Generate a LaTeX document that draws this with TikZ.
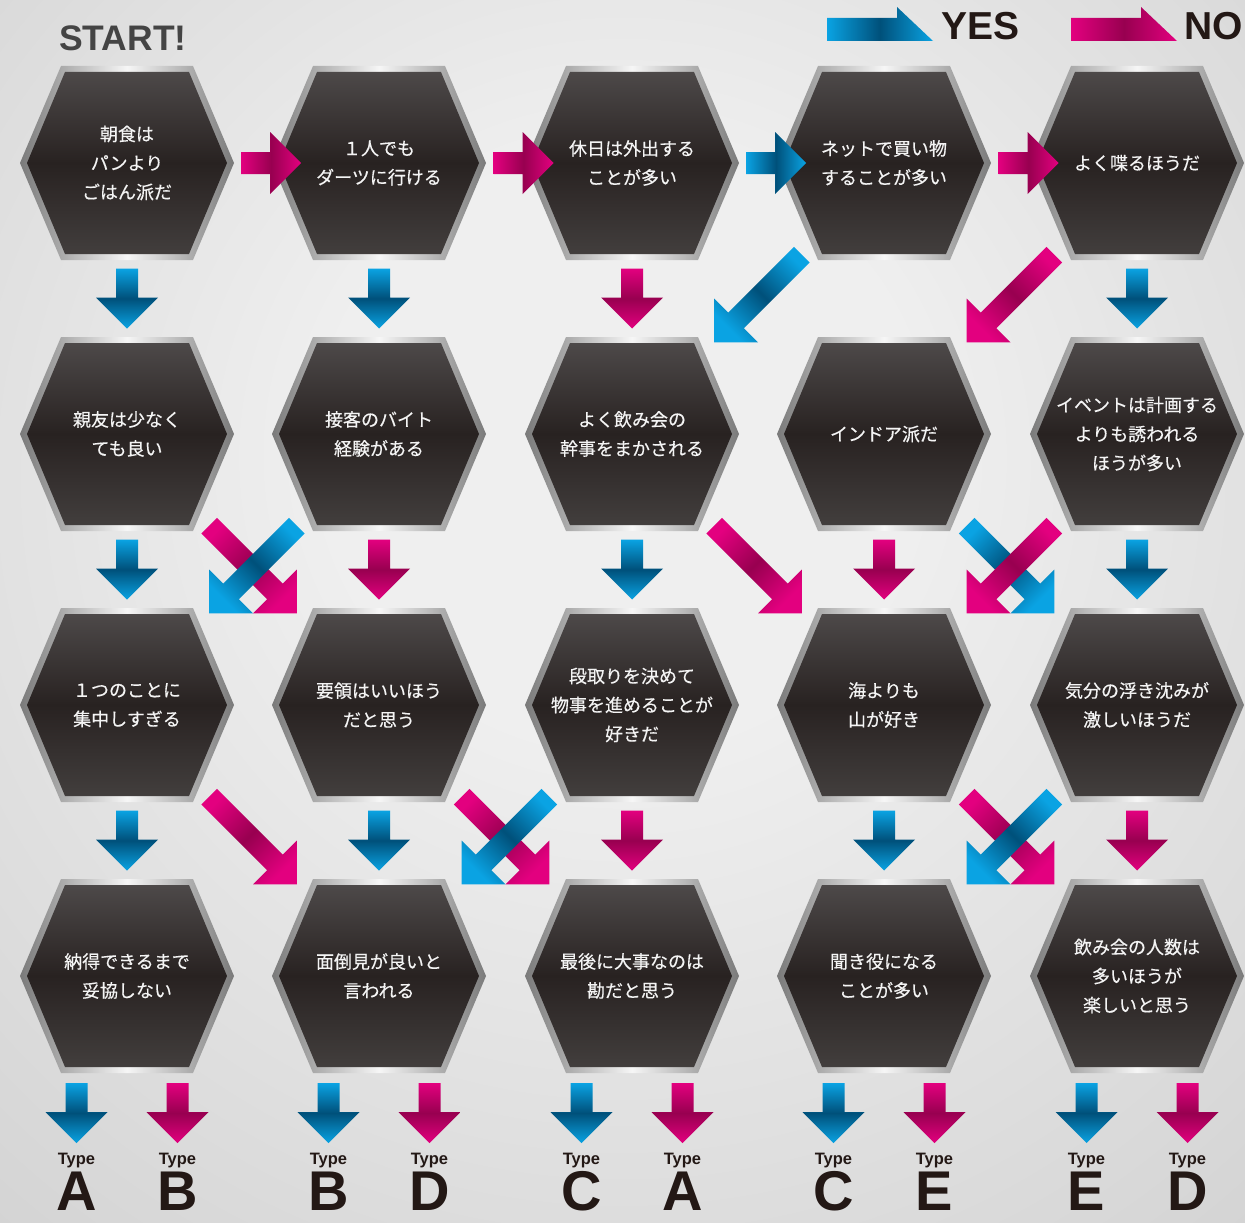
\documentclass[tikz,border=0pt]{standalone}
\usepackage{fontspec}
\setmainfont{Liberation Sans}
\newfontfamily\jpfont[FakeBold=0.4]{Noto Sans CJK JP}
\usetikzlibrary{calc}

\definecolor{bgin}{HTML}{EFEFEF}
\definecolor{bgmid}{HTML}{C8C8C8}
\definecolor{bgout}{HTML}{B3B3B3}
\definecolor{rimL}{HTML}{F6F6F6}
\definecolor{rimD}{HTML}{7A7A7A}
\definecolor{coreT}{HTML}{4D4949}
\definecolor{coreM}{HTML}{282221}
\definecolor{coreB}{HTML}{423E3D}
\definecolor{hextxt}{HTML}{F4F4F4}
\definecolor{yesL}{HTML}{0AA3E3}
\definecolor{yesD}{HTML}{00507A}
\definecolor{noL}{HTML}{E3007F}
\definecolor{noD}{HTML}{980050}
\definecolor{ink}{HTML}{231815}
\definecolor{startgray}{HTML}{444444}

\pgfdeclareradialshading{bgglow}{\pgfpoint{0bp}{8bp}}{color(0bp)=(bgin); color(12bp)=(bgin); color(50bp)=(bgmid); color(72bp)=(bgout)}

% hexagon card: name, x, y, text
\newcommand\hexbox[4]{%
  \begin{scope}[shift={(#2,#3)}]
    \shade[hexrim] (-107,0) -- (-66,-97) -- (66,-97) -- (107,0) -- (66,97) -- (-66,97) -- cycle;
    \shade[hexcore] (-100,0) -- (-62,-91) -- (62,-91) -- (100,0) -- (62,91) -- (-62,91) -- cycle;
    \node[hextext] (#1) at (0,0) {#4};
  \end{scope}}

% block arrow: style, centre, angle, length
\newcommand\blockarrow[4]{%
  \pgfmathsetmacro\baH{#4/2}%
  \pgfmathsetmacro\baB{#4/2-31}%
  \pgfmathsetmacro\baS{#3+90}%
  \coordinate (ba) at (#2);
  \shade[#1,shading angle=\baS]
    ($(ba)+(#3+180:\baH pt)+(#3+90:11pt)$) --
    ($(ba)+(#3:\baB pt)+(#3+90:11pt)$) --
    ($(ba)+(#3:\baB pt)+(#3+90:31pt)$) --
    ($(ba)+(#3:\baH pt)$) --
    ($(ba)+(#3:\baB pt)+(#3-90:31pt)$) --
    ($(ba)+(#3:\baB pt)+(#3-90:11pt)$) --
    ($(ba)+(#3+180:\baH pt)+(#3-90:11pt)$) -- cycle;}

\begin{document}
\begin{tikzpicture}[x=1pt,y=-1pt,
  hexrim/.style={left color=rimD,right color=rimD,middle color=rimL},
  hexcore/.style={top color=coreT,bottom color=coreB,middle color=coreM},
  hextext/.style={text=hextxt,font=\jpfont\fontsize{18}{29}\selectfont,align=center,inner sep=0pt},
  yesgrad/.style={top color=yesL,bottom color=yesL,middle color=yesD},
  nograd/.style={top color=noL,bottom color=noL,middle color=noD},
  typetag/.style={font=\bfseries\fontsize{16.5}{16.5}\selectfont,text=ink,anchor=base,inner sep=0pt},
  typeletter/.style={font=\bfseries\fontsize{56}{56}\selectfont,text=ink,anchor=base,inner sep=0pt},
  legendtext/.style={font=\bfseries\fontsize{39}{39}\selectfont,text=ink,anchor=base west,inner sep=0pt}]
\useasboundingbox (0,0) rectangle (1245,1223);
\shade[shading=bgglow] (0,0) rectangle (1245,1223);

% legend
\node[anchor=base west,inner sep=0pt,font=\bfseries\fontsize{35.5}{35.5}\selectfont,text=startgray] (start) at (59,51) {START!};
\shade[left color=yesL,right color=yesL,middle color=yesD] (827,18) -- (897,18) -- (897,7) -- (933,41) -- (827,41) -- cycle;
\node[legendtext] (yes) at (941,40) {YES};
\shade[left color=noL,right color=noL,middle color=noD] (1071,18) -- (1141,18) -- (1141,7) -- (1177,41) -- (1071,41) -- cycle;
\node[legendtext] (no) at (1184,40) {NO};

% row 1
\hexbox{q11}{127}{163}{朝食は\\パンより\\ごはん派だ}
\hexbox{q21}{379}{163}{１人でも\\ダーツに行ける}
\hexbox{q31}{632}{163}{休日は外出する\\ことが多い}
\hexbox{q41}{884}{163}{ネットで買い物\\することが多い}
\hexbox{q51}{1137}{163}{よく喋るほうだ}
% row 2
\hexbox{q12}{127}{434}{親友は少なく\\ても良い}
\hexbox{q22}{379}{434}{接客のバイト\\経験がある}
\hexbox{q32}{632}{434}{よく飲み会の\\幹事をまかされる}
\hexbox{q42}{884}{434}{インドア派だ}
\hexbox{q52}{1137}{434}{イベントは計画する\\よりも誘われる\\ほうが多い}
% row 3
\hexbox{q13}{127}{705}{１つのことに\\集中しすぎる}
\hexbox{q23}{379}{705}{要領はいいほう\\だと思う}
\hexbox{q33}{632}{705}{段取りを決めて\\物事を進めることが\\好きだ}
\hexbox{q43}{884}{705}{海よりも\\山が好き}
\hexbox{q53}{1137}{705}{気分の浮き沈みが\\激しいほうだ}
% row 4
\hexbox{q14}{127}{976}{納得できるまで\\妥協しない}
\hexbox{q24}{379}{976}{面倒見が良いと\\言われる}
\hexbox{q34}{632}{976}{最後に大事なのは\\勘だと思う}
\hexbox{q44}{884}{976}{聞き役になる\\ことが多い}
\hexbox{q54}{1137}{976}{飲み会の人数は\\多いほうが\\楽しいと思う}

% row 1 across
\blockarrow{nograd}{$(q11)!0.5!(q21)+(18,0)$}{0}{60}
\blockarrow{nograd}{$(q21)!0.5!(q31)+(18,0)$}{0}{60}
\blockarrow{yesgrad}{$(q31)!0.5!(q41)+(18,0)$}{0}{60}
\blockarrow{nograd}{$(q41)!0.5!(q51)+(18,0)$}{0}{60}

% row 1 -> row 2
\blockarrow{yesgrad}{$(q11)!0.5!(q12)$}{-90}{60}
\blockarrow{yesgrad}{$(q21)!0.5!(q22)$}{-90}{60}
\blockarrow{nograd}{$(q31)!0.5!(q32)$}{-90}{60}
\blockarrow{yesgrad}{$(q41)!0.5!(q32)$}{-135}{124}
\blockarrow{nograd}{$(q51)!0.5!(q42)$}{-135}{124}
\blockarrow{yesgrad}{$(q51)!0.5!(q52)$}{-90}{60}

% row 2 -> row 3
\blockarrow{yesgrad}{$(q12)!0.5!(q13)$}{-90}{60}
\blockarrow{nograd}{$(q12)!0.5!(q23)$}{-45}{124}
\blockarrow{yesgrad}{$(q22)!0.5!(q13)$}{-135}{124}
\blockarrow{nograd}{$(q22)!0.5!(q23)$}{-90}{60}
\blockarrow{yesgrad}{$(q32)!0.5!(q33)$}{-90}{60}
\blockarrow{nograd}{$(q32)!0.5!(q43)$}{-45}{124}
\blockarrow{nograd}{$(q42)!0.5!(q43)$}{-90}{60}
\blockarrow{yesgrad}{$(q42)!0.5!(q53)$}{-45}{124}
\blockarrow{nograd}{$(q52)!0.5!(q43)$}{-135}{124}
\blockarrow{yesgrad}{$(q52)!0.5!(q53)$}{-90}{60}

% row 3 -> row 4
\blockarrow{yesgrad}{$(q13)!0.5!(q14)$}{-90}{60}
\blockarrow{nograd}{$(q13)!0.5!(q24)$}{-45}{124}
\blockarrow{yesgrad}{$(q23)!0.5!(q24)$}{-90}{60}
\blockarrow{nograd}{$(q23)!0.5!(q34)$}{-45}{124}
\blockarrow{yesgrad}{$(q33)!0.5!(q24)$}{-135}{124}
\blockarrow{nograd}{$(q33)!0.5!(q34)$}{-90}{60}
\blockarrow{yesgrad}{$(q43)!0.5!(q44)$}{-90}{60}
\blockarrow{nograd}{$(q43)!0.5!(q54)$}{-45}{124}
\blockarrow{yesgrad}{$(q53)!0.5!(q44)$}{-135}{124}
\blockarrow{nograd}{$(q53)!0.5!(q54)$}{-90}{60}

% results
\blockarrow{yesgrad}{$(q14)+(-50.5,137)$}{-90}{60}
\blockarrow{nograd}{$(q14)+(50.5,137)$}{-90}{60}
\blockarrow{yesgrad}{$(q24)+(-50.5,137)$}{-90}{60}
\blockarrow{nograd}{$(q24)+(50.5,137)$}{-90}{60}
\blockarrow{yesgrad}{$(q34)+(-50.5,137)$}{-90}{60}
\blockarrow{nograd}{$(q34)+(50.5,137)$}{-90}{60}
\blockarrow{yesgrad}{$(q44)+(-50.5,137)$}{-90}{60}
\blockarrow{nograd}{$(q44)+(50.5,137)$}{-90}{60}
\blockarrow{yesgrad}{$(q54)+(-50.5,137)$}{-90}{60}
\blockarrow{nograd}{$(q54)+(50.5,137)$}{-90}{60}

\node[typetag] (tag1y) at ($(q14)+(-50.5,188)$) {Type};
\node[typetag] (tag1n) at ($(q14)+(50.5,188)$) {Type};
\node[typetag] (tag2y) at ($(q24)+(-50.5,188)$) {Type};
\node[typetag] (tag2n) at ($(q24)+(50.5,188)$) {Type};
\node[typetag] (tag3y) at ($(q34)+(-50.5,188)$) {Type};
\node[typetag] (tag3n) at ($(q34)+(50.5,188)$) {Type};
\node[typetag] (tag4y) at ($(q44)+(-50.5,188)$) {Type};
\node[typetag] (tag4n) at ($(q44)+(50.5,188)$) {Type};
\node[typetag] (tag5y) at ($(q54)+(-50.5,188)$) {Type};
\node[typetag] (tag5n) at ($(q54)+(50.5,188)$) {Type};

\node[typeletter] (res1y) at ($(q14)+(-50.5,234)$) {A};
\node[typeletter] (res1n) at ($(q14)+(50.5,234)$) {B};
\node[typeletter] (res2y) at ($(q24)+(-50.5,234)$) {B};
\node[typeletter] (res2n) at ($(q24)+(50.5,234)$) {D};
\node[typeletter] (res3y) at ($(q34)+(-50.5,234)$) {C};
\node[typeletter] (res3n) at ($(q34)+(50.5,234)$) {A};
\node[typeletter] (res4y) at ($(q44)+(-50.5,234)$) {C};
\node[typeletter] (res4n) at ($(q44)+(50.5,234)$) {E};
\node[typeletter] (res5y) at ($(q54)+(-50.5,234)$) {E};
\node[typeletter] (res5n) at ($(q54)+(50.5,234)$) {D};
\end{tikzpicture}
\end{document}
